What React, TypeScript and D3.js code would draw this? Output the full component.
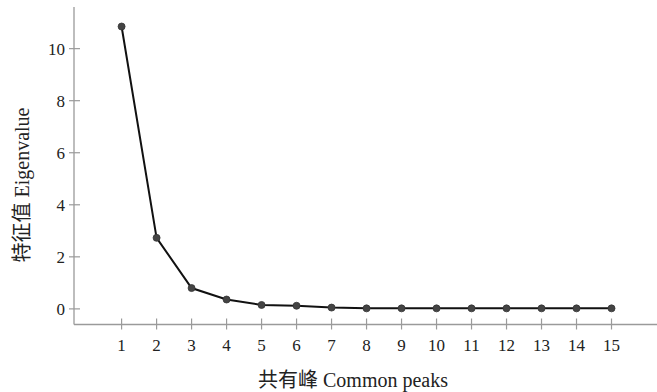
import React, { useEffect, useRef } from 'react';
import * as d3 from 'd3';

// Scree plot data: component number vs eigenvalue
const components = [1, 2, 3, 4, 5, 6, 7, 8, 9, 10, 11, 12, 13, 14, 15];
const eigenvalues = [10.85, 2.73, 0.8, 0.36, 0.15, 0.12, 0.05, 0.02, 0.02, 0.02, 0.02, 0.02, 0.02, 0.02, 0.02];
const yTicks = [0, 2, 4, 6, 8, 10];
const xTitle = '共有峰 Common peaks';
const yTitle = '特征值 Eigenvalue';

const App = () => {
  const ref = useRef<SVGSVGElement>(null);

  useEffect(() => {
    const svg = d3.select(ref.current);
    svg.selectAll('*').remove();

    const axisColor = '#9a9a9a';
    const textColor = '#222';
    const font = '"Liberation Serif", "Times New Roman", "Noto Sans CJK SC", serif';

    // Scales (axis lines run a bit past the data on both ends)
    const x = d3.scaleLinear().domain([-0.36, 16.3]).range([74, 657]);
    const y = d3.scaleLinear().domain([-0.6, 11.6]).range([324.5, 7]);

    const x0 = x.range()[0];
    const yBase = y.range()[0];

    // Axis lines
    svg.append('line')
      .attr('x1', x0).attr('x2', x0)
      .attr('y1', y.range()[1]).attr('y2', yBase)
      .attr('stroke', axisColor).attr('stroke-width', 1.3);

    svg.append('line')
      .attr('x1', x0).attr('x2', x.range()[1])
      .attr('y1', yBase).attr('y2', yBase)
      .attr('stroke', axisColor).attr('stroke-width', 1.3);

    // Y ticks (crossing the axis)
    const yt = svg.append('g');
    yt.selectAll('line')
      .data(yTicks)
      .enter().append('line')
      .attr('x1', x0 - 5).attr('x2', x0 + 6)
      .attr('y1', d => y(d)).attr('y2', d => y(d))
      .attr('stroke', axisColor).attr('stroke-width', 1.2);
    yt.selectAll('text')
      .data(yTicks)
      .enter().append('text')
      .attr('x', x0 - 9)
      .attr('y', d => y(d))
      .attr('dy', '0.35em')
      .attr('text-anchor', 'end')
      .attr('font-family', font)
      .attr('font-size', 17)
      .attr('fill', textColor)
      .text(d => d);

    // X ticks
    const xt = svg.append('g');
    xt.selectAll('line')
      .data(components)
      .enter().append('line')
      .attr('x1', d => x(d)).attr('x2', d => x(d))
      .attr('y1', yBase - 6).attr('y2', yBase + 5)
      .attr('stroke', axisColor).attr('stroke-width', 1.2);
    xt.selectAll('text')
      .data(components)
      .enter().append('text')
      .attr('x', d => x(d))
      .attr('y', yBase + 21)
      .attr('dy', '0.35em')
      .attr('text-anchor', 'middle')
      .attr('font-family', font)
      .attr('font-size', 17)
      .attr('fill', textColor)
      .text(d => d);

    // Line
    const pts = components.map((c, i) => [c, eigenvalues[i]] as [number, number]);
    const line = d3.line<[number, number]>()
      .x(d => x(d[0]))
      .y(d => y(d[1]));

    svg.append('path')
      .datum(pts)
      .attr('d', line)
      .attr('fill', 'none')
      .attr('stroke', '#111')
      .attr('stroke-width', 2);

    svg.selectAll('circle')
      .data(pts)
      .enter().append('circle')
      .attr('cx', d => x(d[0]))
      .attr('cy', d => y(d[1]))
      .attr('r', 3.5)
      .attr('fill', '#444')
      .attr('stroke', '#333')
      .attr('stroke-width', 0.8);

    // Axis titles
    svg.append('text')
      .attr('x', 353)
      .attr('y', 380)
      .attr('dy', '0.35em')
      .attr('text-anchor', 'middle')
      .attr('font-family', font)
      .attr('font-size', 20)
      .attr('fill', textColor)
      .text(xTitle);

    svg.append('text')
      .attr('transform', 'translate(22,185) rotate(-90)')
      .attr('dy', '0.35em')
      .attr('text-anchor', 'middle')
      .attr('font-family', font)
      .attr('font-size', 20)
      .attr('fill', textColor)
      .text(yTitle);
  }, []);

  return (
    <svg
      ref={ref}
      width={657}
      height={392}
      style={{ position: 'absolute', left: 0, top: 0, background: '#fff' }}
    />
  );
};

export default App;
